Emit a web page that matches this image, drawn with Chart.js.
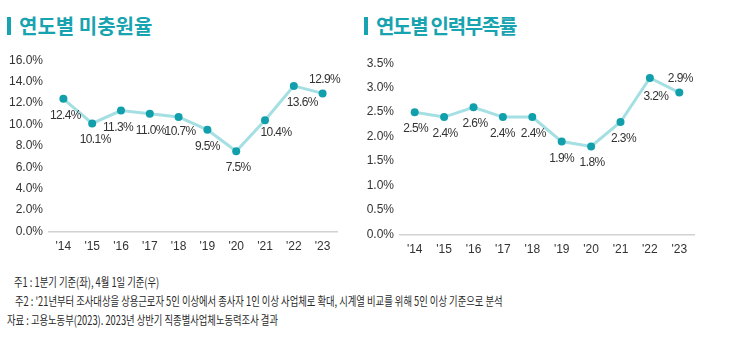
<!DOCTYPE html>
<html>
<head>
<meta charset="utf-8">
<script src="https://cdn.jsdelivr.net/npm/chart.js@4/dist/chart.umd.min.js"></script>
<style>
  html, body { margin: 0; padding: 0; background: #ffffff; }
  body { width: 730px; height: 355px; position: relative; overflow: hidden; font-family: "Noto Sans CJK KR", sans-serif; }
  .bar { position: absolute; width: 4px; height: 18px; background: #17a3b0; }
  .title { position: absolute; font-family: "Noto Sans CJK KR", sans-serif; font-weight: 700; font-size: 20px; line-height: 20px; color: #17a3b0; white-space: nowrap; }
  .note { position: absolute; font-family: "Noto Sans CJK KR", sans-serif; font-size: 12.5px; line-height: 19px; color: #2a2a2a; white-space: nowrap; transform-origin: left center; transform: scaleX(0.745); }
  canvas { position: absolute; }
</style>
</head>
<body>
<div class="bar" style="left:7px; top:17px;"></div>
<div class="title" style="left:19px; top:16px;">연도별 미충원율</div>
<div class="bar" style="left:364px; top:17px;"></div>
<div class="title" style="left:376px; top:16px; letter-spacing:-1.3px;">연도별 인력부족률</div>

<canvas id="c1" width="365" height="217" style="left:0px; top:47px;"></canvas>
<canvas id="c2" width="365" height="217" style="left:365px; top:50px;"></canvas>

<div class="note" style="left:14px; top:272px;">주1 : 1분기 기준(좌), 4월 1일 기준(우)</div>
<div class="note" style="left:15px; top:291px;">주2 : '21년부터 조사대상을 상용근로자 5인 이상에서 종사자 1인 이상 사업체로 확대, 시계열 비교를 위해 5인 이상 기준으로 분석</div>
<div class="note" style="left:7px; top:310px;">자료 : 고용노동부(2023). 2023년 상반기 직종별사업체노동력조사 결과</div>

<script>
// ---- data ----
const years = ["'14", "'15", "'16", "'17", "'18", "'19", "'20", "'21", "'22", "'23"];
const unfilledRate = [12.4, 10.1, 11.3, 11.0, 10.7, 9.5, 7.5, 10.4, 13.6, 12.9];
const shortageRate = [2.5, 2.4, 2.6, 2.4, 2.4, 1.9, 1.8, 2.3, 3.2, 2.9];
const leftTicks = [0, 2, 4, 6, 8, 10, 12, 14, 16];
const rightTicks = [0, 0.5, 1.0, 1.5, 2.0, 2.5, 3.0, 3.5];

// ---- styles ----
const lineColor = '#a4dfe3';
const pointColor = '#11a0ab';
const textColor = '#333333';
const tickFont = { family: '"Liberation Sans", Arial, sans-serif', size: 12 };

// label offsets (style only): [dx, dy] relative to each point
const leftLabelOffsets = [[2,17],[3,16],[-3,17],[1,17],[1.5,15],[0,17],[2,16.5],[11,12.5],[8.5,17],[2,-14]];
const rightLabelOffsets = [[1,16.5],[1,16.5],[1.5,16.5],[-0.5,16.5],[1,16.5],[0,17],[1,16],[3,17],[6,19],[1,-14]];

const labelPlugin = {
  id: 'pointLabels',
  afterDatasetsDraw(chart, args, opts) {
    const ctx = chart.ctx;
    const meta = chart.getDatasetMeta(0);
    const vals = chart.data.datasets[0].data;
    ctx.save();
    ctx.font = '12px "Liberation Sans", Arial, sans-serif';
    ctx.letterSpacing = '-0.6px';
    ctx.fillStyle = textColor;
    ctx.textAlign = 'center';
    ctx.textBaseline = 'middle';
    meta.data.forEach((pt, i) => {
      const off = opts.offsets[i];
      ctx.fillText(vals[i].toFixed(1) + '%', pt.x + off[0], pt.y + off[1]);
    });
    ctx.restore();
  }
};

function makeChart(id, values, ticks, yWidth, padRight, offsets) {
  const maxV = ticks[ticks.length - 1];
  const step = ticks[1] - ticks[0];
  return new Chart(document.getElementById(id), {
    type: 'line',
    data: {
      labels: years,
      datasets: [{
        data: values,
        borderColor: lineColor,
        borderWidth: 3,
        pointBackgroundColor: pointColor,
        pointBorderColor: pointColor,
        pointRadius: 4,
        pointBorderWidth: 0,
        tension: 0,
        fill: false
      }]
    },
    options: {
      responsive: false,
      animation: false,
      devicePixelRatio: 1,
      layout: { padding: { top: 3, right: padRight, bottom: 2, left: 0 } },
      plugins: {
        legend: { display: false },
        tooltip: { enabled: false },
        pointLabels: { offsets: offsets }
      },
      scales: {
        x: {
          type: 'category',
          offset: true,
          grid: { display: false, drawTicks: false },
          border: { display: true, color: '#d2d2d2', width: 1.5 },
          ticks: { color: textColor, font: tickFont, padding: 8, maxRotation: 0, autoSkip: false }
        },
        y: {
          min: 0,
          max: maxV,
          grid: { display: false, drawTicks: false },
          border: { display: false },
          afterFit: (s) => { s.width = yWidth; },
          afterBuildTicks: (s) => { s.ticks = ticks.map(v => ({ value: v })); },
          ticks: {
            color: textColor,
            font: tickFont,
            padding: 6,
            stepSize: step,
            callback: (v) => Number(v).toFixed(1) + '%'
          }
        }
      }
    },
    plugins: [labelPlugin]
  });
}

makeChart('c1', unfilledRate, leftTicks, 49, 28, leftLabelOffsets);
makeChart('c2', shortageRate, rightTicks, 35, 36, rightLabelOffsets);
</script>
</body>
</html>
